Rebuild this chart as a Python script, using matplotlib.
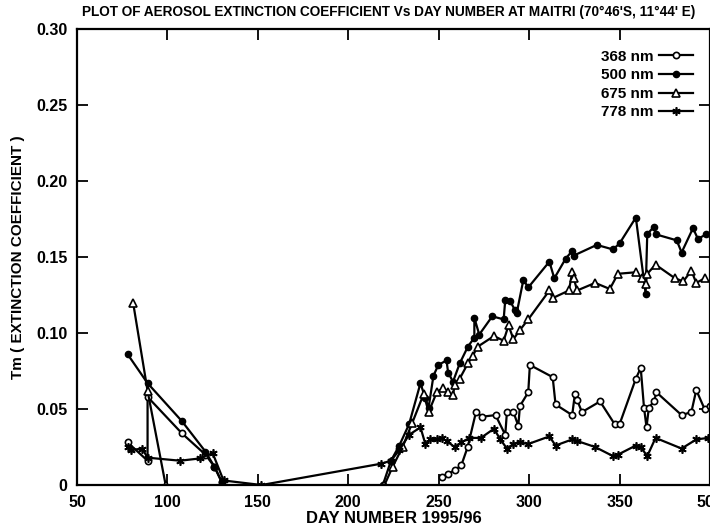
import numpy as np
import matplotlib.pyplot as plt

nan = np.nan

# 368 nm (open circles)
d368 = [78, 89, 89, 108, 121, 126, 130, nan,
        251.6, 255.2, 258.8, 262.5, 266, 270.6, 274.2, 281.4, 286.8, 287.7, 291.3, 294.0,
        294.9, 299.5, 300.4, 313, 314.6, 323.8, 325.3, 326.5, 329.2, 339.2, 347.3, 350,
        359, 361.7, 363.5, 364.9, 366.2, 369, 370.4, 384.3, 389.7, 392.4, 397, 400]
v368 = [0.028, 0.016, 0.058, 0.034, 0.020, 0.012, 0.002, nan,
        0.005, 0.0075, 0.0097, 0.013, 0.025, 0.048, 0.045, 0.046, 0.033, 0.048, 0.048, 0.039,
        0.052, 0.061, 0.079, 0.071, 0.053, 0.046, 0.060, 0.056, 0.048, 0.055, 0.040, 0.040,
        0.070, 0.077, 0.051, 0.038, 0.051, 0.055, 0.061, 0.046, 0.048, 0.0625, 0.050, 0.052]

# 500 nm (filled circles)
d500 = [78, 89, 108, 121, 126, 130, nan,
        219.1, 223.6, 228.2, 233.6, 239.9, 242.6, 244.4, 247.1, 249.8, 254.3, 255.2, 257.9,
        261.6, 266.1, 269.7, 269.7, 272.4, 279.6, 285.9, 286.8, 289.5, 292.2, 293.1, 296.8,
        299.5, 311.2, 313.9, 320.2, 323.8, 324.7, 337.4, 346.4, 350, 359, 364.4, 365.3,
        369, 369.9, 381.6, 384.3, 390.6, 393.3, 398]
v500 = [0.086, 0.067, 0.042, 0.022, 0.012, 0.002, nan,
        0.0, 0.016, 0.026, 0.040, 0.067, 0.057, 0.051, 0.072, 0.079, 0.082, 0.074, 0.068,
        0.080, 0.091, 0.097, 0.110, 0.099, 0.111, 0.109, 0.122, 0.121, 0.115, 0.113, 0.135,
        0.130, 0.147, 0.136, 0.149, 0.154, 0.151, 0.158, 0.155, 0.159, 0.176, 0.126, 0.165,
        0.170, 0.165, 0.161, 0.153, 0.169, 0.162, 0.165]

# 675 nm (open triangles)
d675 = [81, 89, 99, nan,
        220, 224.5, 230, 235.4, 241.7, 244.4, 248.9, 252.5, 255.2, 257.9, 258.8, 261.6,
        266.1, 268.8, 271.5, 280.5, 285.9, 288.6, 291.3, 294.9, 299.5, 311.2, 313, 322,
        323.8, 324.7, 326.5, 336.5, 344.6, 349.1, 359, 362.6, 364.4, 365.3, 369.9, 380.7,
        385.2, 389.7, 392.4, 397]
v675 = [0.120, 0.062, 0.0, nan,
        0.0, 0.012, 0.025, 0.041, 0.060, 0.048, 0.061, 0.064, 0.061, 0.059, 0.066, 0.070,
        0.080, 0.085, 0.091, 0.098, 0.095, 0.105, 0.096, 0.102, 0.109, 0.128, 0.123, 0.128,
        0.140, 0.136, 0.128, 0.133, 0.129, 0.139, 0.140, 0.136, 0.132, 0.139, 0.145, 0.136,
        0.134, 0.141, 0.133, 0.136]

# 778 nm (asterisks)
d778 = [78, 80, 86, 89, 107, 118, 125, 131, 152, 218,
        223.6, 228.2, 233.6, 239.9, 242.6, 245.3, 248.9, 251.6, 254.3, 258.8, 262.5, 267,
        273.3, 280.5, 284.1, 287.7, 291.3, 294.9, 299.5, 311.2, 314.6, 323.8, 326.5, 336.5,
        346.4, 349.1, 359, 361.7, 365.3, 369.9, 384.3, 392.4, 399]
v778 = [0.025, 0.023, 0.024, 0.018, 0.016, 0.0175, 0.021, 0.003, 0.0, 0.014,
        0.016, 0.023, 0.033, 0.038, 0.027, 0.030, 0.030, 0.031, 0.029, 0.025, 0.028, 0.031,
        0.031, 0.037, 0.030, 0.024, 0.027, 0.028, 0.027, 0.032, 0.026, 0.030, 0.029, 0.025,
        0.019, 0.020, 0.026, 0.025, 0.019, 0.031, 0.024, 0.030, 0.031]

xticks = [50, 100, 150, 200, 250, 300, 350, 400]
xticklabels = ['50', '100', '150', '200', '250', '300', '350', '500']
yticks = [0, 0.05, 0.10, 0.15, 0.20, 0.25, 0.30]
yticklabels = ['0', '0.05', '0.10', '0.15', '0.20', '0.25', '0.30']

plt.rcParams['font.family'] = ['Liberation Sans', 'DejaVu Sans']
plt.rcParams['font.weight'] = 'bold'

fig = plt.figure(figsize=(7.1, 5.32), dpi=100)
ax = fig.add_axes([0.1085, 0.0883, 0.8915, 0.857])

lw = 1.6
ax.plot(d368, v368, color='black', lw=lw, marker='o', ms=4.5, mfc='white', mec='black', mew=1.2, label='368 nm')
ax.plot(d500, v500, color='black', lw=lw, marker='o', ms=4.5, mfc='black', mec='black', label='500 nm')
ax.plot(d675, v675, color='black', lw=lw, marker='^', ms=5.5, mfc='white', mec='black', mew=1.2, label='675 nm')
ax.plot(d778, v778, color='black', lw=lw, marker=(6, 2, 0), ms=6, mec='black', mew=1.2, label='778 nm')

ax.set_xlim(50, 400)
ax.set_ylim(0, 0.30)
ax.set_xticks(xticks)
ax.set_xticklabels(xticklabels)
ax.set_yticks(yticks)
ax.set_yticklabels(yticklabels)
ax.tick_params(direction='in', length=8, width=1.3, top=True, right=True, labelsize=11.5)
ax.tick_params(axis='x', pad=7)
ax.tick_params(axis='y', pad=7)
for s in ax.spines.values():
    s.set_linewidth(1.6)

ax.set_xlabel('DAY NUMBER 1995/96', fontsize=12, fontweight='bold', labelpad=1)
ax.set_ylabel('Tm ( EXTINCTION COEFFICIENT )', fontsize=11, fontweight='bold', labelpad=8)
fig.text(0.548, 0.977, "PLOT OF AEROSOL EXTINCTION COEFFICIENT Vs DAY NUMBER AT MAITRI (70\u00b046'S, 11\u00b044' E)",
         ha='center', va='center', fontsize=9.8)

ax.legend(loc='upper right', bbox_to_anchor=(0.995, 0.985), frameon=False, markerfirst=False,
          fontsize=11, handlelength=2.2, labelspacing=0.3, handletextpad=0.4)

fig.savefig('out.png', dpi=100)
